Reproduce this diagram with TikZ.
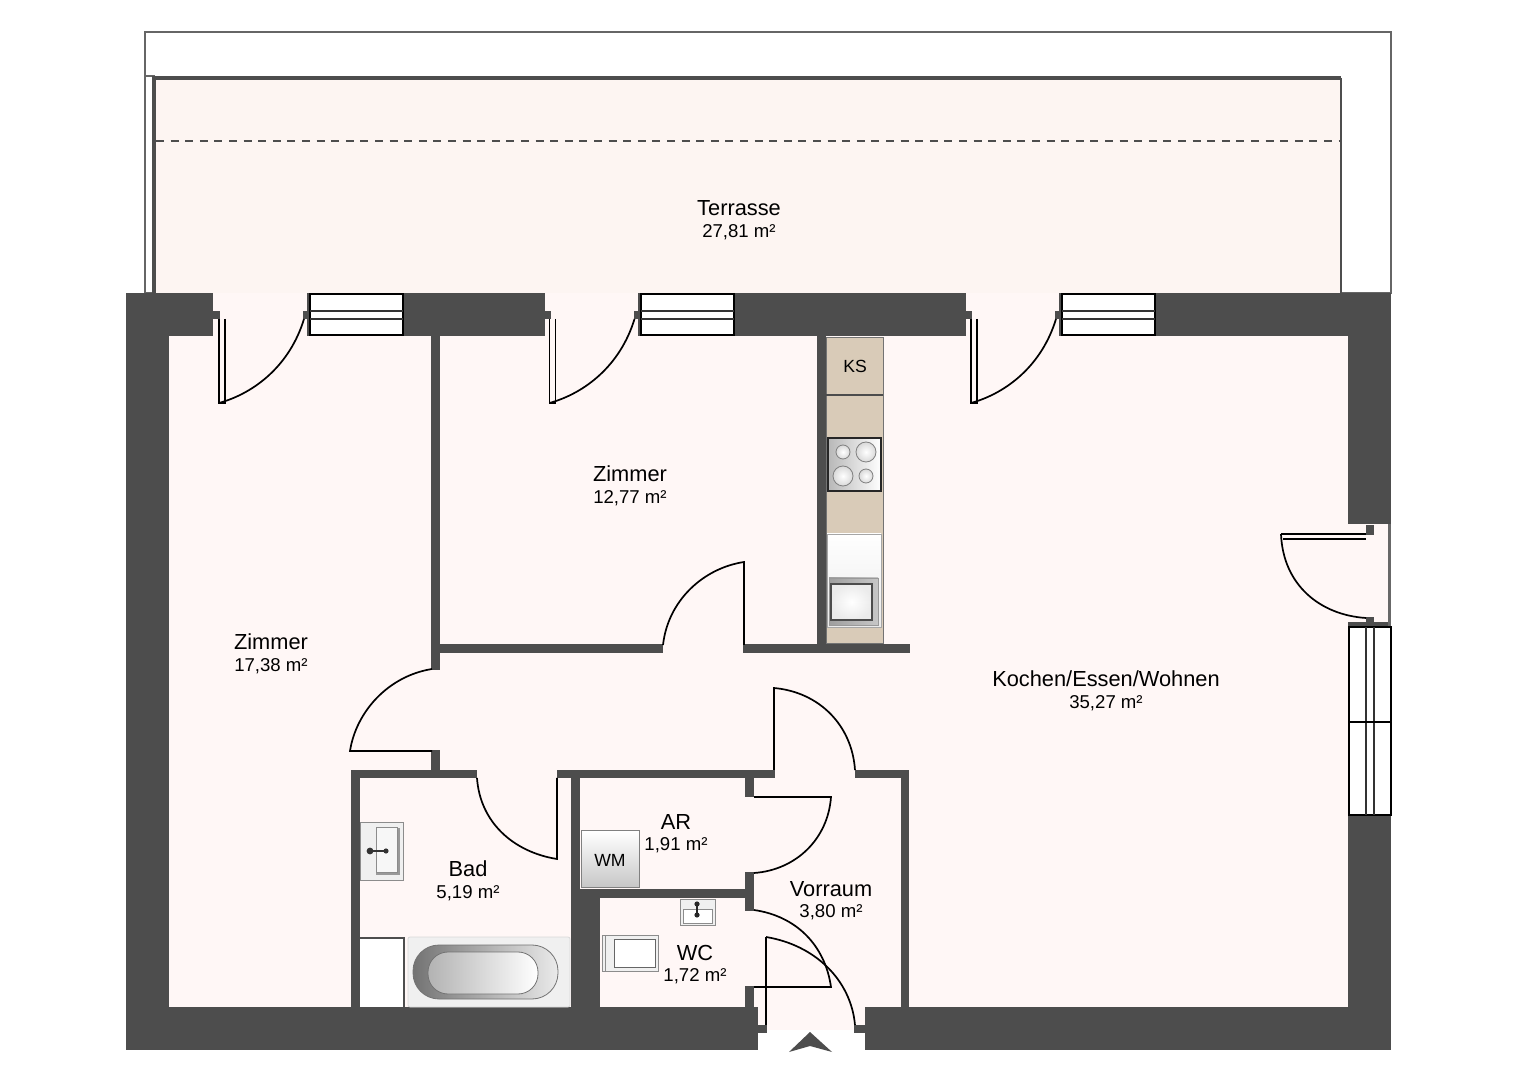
\documentclass[tikz,border=0pt]{standalone}
\usepackage{fontspec}
\setmainfont{Liberation Sans}
\usetikzlibrary{positioning}

\definecolor{wallcol}{HTML}{4D4D4D}
\definecolor{floorcol}{HTML}{FFF7F6}
\definecolor{terracecol}{HTML}{FDF5F2}
\definecolor{counter}{HTML}{D9CBB8}

\begin{document}
\begin{tikzpicture}[x=0.5pt,y=-0.5pt,
  wall/.style={fill=wallcol,draw=none},
  floor/.style={fill=floorcol,draw=none},
  pane/.style={fill=white,draw=black,line width=1pt},
  bar/.style={draw=black!80,line width=0.6pt},
  leaf/.style={draw=black,line width=0.85pt},
  outline/.style={draw=black!60,line width=0.6pt},
  fixture/.style={draw=black!45,line width=0.5pt},
  room/.style={font=\fontsize{10.9}{12}\selectfont,inner sep=0pt,
    text height=8pt,text depth=2pt},
  area/.style={font=\fontsize{9.3}{11}\selectfont,inner sep=0pt,
    text height=7pt,text depth=2pt},
  tag/.style={font=\fontsize{8.8}{10}\selectfont,inner sep=0pt}]

  \useasboundingbox (0,0) rectangle (1528,1080);
  \fill[white] (0,0) rectangle (1528,1080);

  % terrace
  \draw[outline] (145,32) rectangle (1391,293);
  \draw[outline] (145,76) -- (155,76);
  \fill[terracecol] (155,78) rectangle (1342,293);
  \draw[wallcol,line width=2pt] (154,293) -- (154,78) -- (1341,78);
  \draw[wallcol,line width=1pt] (1341,78) -- (1341,293);
  \draw[wallcol,line width=0.6pt,dash pattern=on 4pt off 3.3pt] (156,141) -- (1340,141);

  % shell
  \fill[wall] (126,293) rectangle (1391,1050);
  \fill[floor] (169,336) rectangle (1348,1007);

  % terrace doors and windows
  \foreach \dx/\dw in {0/0,330.5/332,752/753} {
    \fill[floor] ({213+\dw},293) rectangle ({307+\dx},336);
    \begin{scope}[xshift=\dx*0.5pt]
      \fill[wall] (213,311) rectangle (220,319);
      \fill[wall] (303,311) rectangle (308,319);
      \draw[pane] (310,294) rectangle (403,335);
      \draw[bar] (310,311) -- (403,311) (310,319) -- (403,319);
      \draw[leaf] (225,319) -- (225,403) -- (219,403) -- (219,319);
      \draw[leaf] (219,403) .. controls (255,393) and (290,365) .. (304,319);
    \end{scope}
  }

  % balcony door and window
  \fill[floor] (1348,524) rectangle (1389,622);
  \fill[wallcol!85] (1388,524) rectangle (1391,626);
  \fill[wall] (1348,622) rectangle (1388,627);
  \fill[wall] (1366,525) rectangle (1374,535);
  \fill[wall] (1366,617) rectangle (1374,623);
  \draw[pane] (1349,627) rectangle (1391,815);
  \draw[bar] (1366,627) -- (1366,815) (1374,627) -- (1374,815);
  \draw[pane] (1349,722) -- (1391,722);
  \draw[leaf] (1366,534) -- (1281,534) (1366,539) -- (1283,539);
  \draw[leaf] (1281,534) .. controls (1283,585) and (1320,615) .. (1366,618);

  % entrance
  \fill[floor] (758,1007) rectangle (865,1030);
  \fill[white] (758,1030) rectangle (865,1051);
  \fill[wall] (758,1025) rectangle (767,1033);
  \fill[wall] (854,1025) rectangle (865,1033);
  \fill[wall] (789,1052) -- (810,1032) -- (832,1052) -- (810,1046) -- cycle;
  \draw[leaf] (766,1025) -- (766,937);
  \draw[leaf] (766,937) .. controls (815,945) and (851,980) .. (855,1025);

  % inner walls
  \fill[wall] (431,336) rectangle (440,670);
  \fill[wall] (431,750) rectangle (440,770);
  \fill[wall] (440,644) rectangle (663,653);
  \fill[wall] (743,644) rectangle (910,653);
  \fill[wall] (817,336) rectangle (826,645);
  \fill[wall] (351,770) rectangle (477,778);
  \fill[wall] (557,770) rectangle (775,778);
  \fill[wall] (855,770) rectangle (909,778);
  \fill[wall] (351,770) rectangle (360,1007);
  \fill[wall] (901,770) rectangle (909,1007);
  \fill[wall] (571,778) rectangle (580,890);
  \fill[wall] (571,889) rectangle (600,1007);
  \fill[wall] (580,889) rectangle (747,898);
  \fill[wall] (745,778) rectangle (754,797);
  \fill[wall] (745,872) rectangle (754,911);
  \fill[wall] (745,986) rectangle (754,1007);

  % inner doors
  \draw[leaf] (744,645) -- (744,562) .. controls (704,568) and (668,600) .. (663,645);
  \draw[leaf] (432,751) -- (350,751) .. controls (356,712) and (388,676) .. (432,669);
  \draw[leaf] (557,778) -- (557,859) .. controls (513,852) and (480,822) .. (477,778);
  \draw[leaf] (774,770) -- (774,688) .. controls (819,692) and (852,725) .. (855,770);
  \draw[leaf] (754,797) -- (831,797) .. controls (828,839) and (796,870) .. (754,873);
  \draw[leaf] (754,987) -- (831,987) .. controls (825,945) and (796,916) .. (754,910);

  % kitchen
  \draw[fill=counter,draw=black!55,line width=0.4pt] (826,337) rectangle (883,643);
  \draw[black!70,line width=0.7pt] (826,395) -- (883,395);
  \node[tag] (ks) at (855,366) {KS};
  \shade[left color=black!28,right color=white] (828,438) rectangle (881,491);
  \draw[black!85,line width=0.6pt] (828,438) rectangle (881,491);
  \foreach \cx/\cy/\cr in {843/452/7,866/452/10,843/476/10,866/476/7}
    \shade[draw=black!50,line width=0.4pt,inner color=white,outer color=black!15]
      (\cx,\cy) circle[radius=\cr*0.5pt];
  \shade[draw=black!35,top color=white,bottom color=black!8] (827,534) rectangle (881,627);
  \shade[draw=black!40,left color=black!38,right color=black!22,line width=0.4pt] (829,578) rectangle (878,625);
  \shade[draw=black!70,line width=0.6pt,inner color=white,outer color=black!8] (831,584) rectangle (872,620);

  % bathroom
  \fill[white] (360,938) rectangle (404,1007);
  \draw[wallcol,line width=1pt] (360,938) -- (404,938) -- (404,1007);
  \draw[fill=black!6,draw=black!15,rounded corners=1pt] (408,937) rectangle (570,1007);
  \shade[draw=black!55,left color=black!55,right color=black!8,line width=0.4pt,rounded corners=13pt]
    (413,945) rectangle (558,999);
  \shade[draw=black!55,left color=black!30,middle color=black!50,right color=white,line width=0.4pt,rounded corners=10pt]
    (428,952) rectangle (538,994);
  \draw[fixture,fill=black!6] (360,823) rectangle (403,880);
  \fill[black!40] (376,828) rectangle (400,875);
  \draw[fixture,fill=black!3] (376,828) rectangle (397,872);
  \draw[black!80,line width=0.6pt] (370,851) -- (386,851);
  \fill[black!80] (370,851) circle[radius=1.7pt] (386,851) circle[radius=1.3pt];

  % washing machine
  \shade[draw=black!50,top color=white,bottom color=black!22,line width=0.5pt] (581,831) rectangle (639,887);
  \node[tag] (wm) at (610,860) {WM};

  % wc
  \draw[fixture,fill=black!6] (680,899) rectangle (715,925);
  \draw[fixture,fill=white] (683,909) rectangle (712,923);
  \draw[black!85,line width=0.6pt] (697,904) -- (697,915);
  \fill[black!85] (697,904) circle[radius=1.3pt] (697,915) circle[radius=1.3pt];
  \draw[fixture,fill=black!6] (602,935) rectangle (658,971);
  \draw[fixture] (605,935) -- (605,971);
  \draw[black!60,line width=0.5pt,fill=white] (614,939) rectangle (655,967);

  % room labels
  \node[room] (terrasse) at (739,210) {Terrasse};
  \node[area,below=1.5pt of terrasse] (terrasseA) {27,81 m²};
  \node[room] (zimmerA) at (630,476) {Zimmer};
  \node[area,below=1.5pt of zimmerA] (zimmerAarea) {12,77 m²};
  \node[room] (zimmerB) at (271,644) {Zimmer};
  \node[area,below=1.5pt of zimmerB] (zimmerBarea) {17,38 m²};
  \node[room] (kochen) at (1106,681) {Kochen/Essen/Wohnen};
  \node[area,below=1.5pt of kochen] (kochenA) {35,27 m²};
  \node[room] (ar) at (676,823) {AR};
  \node[area,below=1.5pt of ar] (arA) {1,91 m²};
  \node[room] (bad) at (468,871) {Bad};
  \node[area,below=1.5pt of bad] (badA) {5,19 m²};
  \node[room] (vorraum) at (831,890) {Vorraum};
  \node[area,below=1.5pt of vorraum] (vorraumA) {3,80 m²};
  \node[room] (wc) at (695,954) {WC};
  \node[area,below=1.5pt of wc] (wcA) {1,72 m²};
\end{tikzpicture}
\end{document}
